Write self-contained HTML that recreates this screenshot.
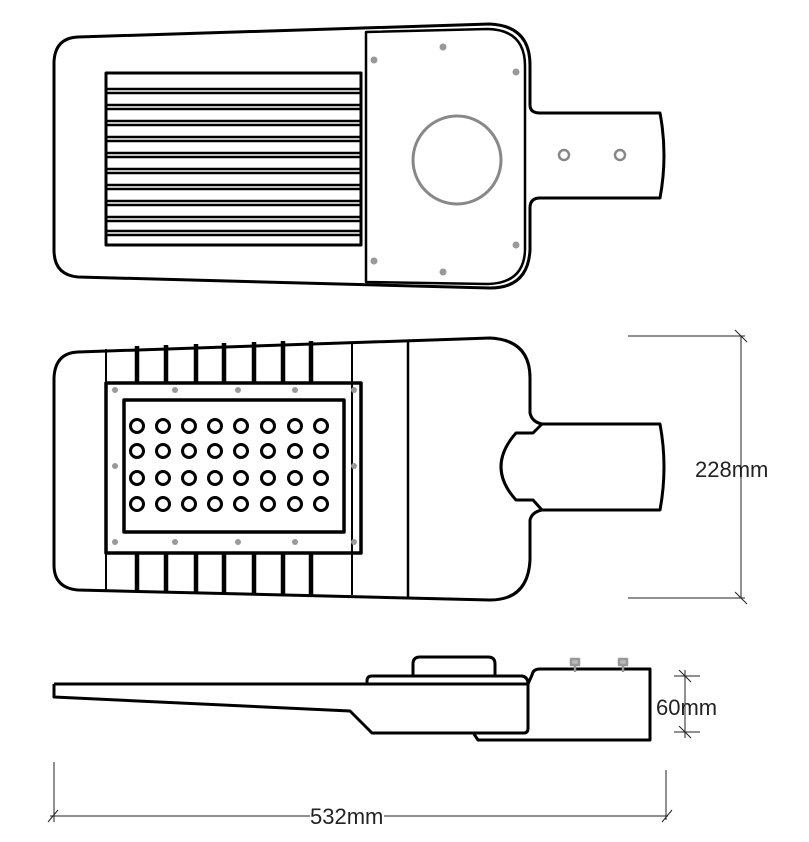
<!DOCTYPE html>
<html><head><meta charset="utf-8"><style>html,body{margin:0;padding:0;background:#fff}svg{display:block}text{font-family:"Liberation Sans",sans-serif;font-size:22px;fill:#222}</style></head><body>
<svg width="809" height="842" viewBox="0 0 809 842" xmlns="http://www.w3.org/2000/svg">
<g fill="none" stroke="#000" stroke-width="3" stroke-linejoin="round">
<!-- TOP VIEW -->
<path d="M78,37 L490,24 Q530,26 530,65 L530,105 Q530,113 540,113 L660,113 Q668,155 660,198 L540,198 Q530,198 530,208 L530,250 Q528,288 490,288 L78,277 Q54,275 54,250 L54,62 Q55,38 78,37 Z"/>
<path d="M366,32 L488,29 Q525,30 525,66 L525,250 Q524,283 488,284 L366,282 Z" stroke-width="2.5"/>
<rect x="106" y="73" width="255" height="172" stroke-width="3"/>
<g stroke-width="2.6">
<path d="M107,89H360M107,93H360M107,105H360M107,109H360M107,121H360M107,125H360M107,137H360M107,141H360M107,153H360M107,157H360M107,169H360M107,173H360M107,185H360M107,189H360M107,201H360M107,205H360M107,217H360M107,221H360M107,231H360M107,235H360"/>
</g>
<circle cx="457" cy="160" r="44" stroke="#888" stroke-width="3"/>
<g stroke="#888" stroke-width="2.5"><circle cx="564" cy="155" r="5"/><circle cx="620" cy="155" r="5"/></g>
<g fill="#999" stroke="none"><circle cx="443" cy="47" r="3.5"/><circle cx="374" cy="60" r="3.5"/><circle cx="516" cy="72" r="3.5"/><circle cx="374" cy="261" r="3.5"/><circle cx="443" cy="272" r="3.5"/><circle cx="516" cy="245" r="3.5"/></g>

<!-- MIDDLE VIEW -->
<path d="M78,352 L490,338 Q530,340 530,378 L530,413 Q532,422 542,424 L660,424 Q668,467 660,510 L542,510 Q532,512 530,520 L530,560 Q528,600 490,600 L78,590 Q54,588 54,565 L54,378 Q55,353 78,352 Z"/>
<path d="M542,424 L533,433 L516,433 Q486,467 516,500 L533,500 L542,510"/>
<path d="M106,349V590M352,343V595" stroke-width="2"/>
<path d="M408,340V597" stroke-width="2.5"/>
<g stroke-width="4.5"><path d="M137,346V383M166,345V383M196,344V383M224,343V383M254,342V383M283,341V383M311,341V383M137,553V592M166,553V593M196,553V593M224,553V594M254,553V594M283,553V595M311,553V595"/></g>
<rect x="106" y="383" width="255" height="170" stroke-width="3.5"/>
<rect x="124" y="400" width="220" height="132" stroke-width="3.5"/>
<g stroke-width="3">
<g id="r"><circle cx="137" cy="426" r="6.5"/><circle cx="163" cy="426" r="6.5"/><circle cx="189" cy="426" r="6.5"/><circle cx="215" cy="426" r="6.5"/><circle cx="241" cy="426" r="6.5"/><circle cx="268" cy="426" r="6.5"/><circle cx="295" cy="426" r="6.5"/><circle cx="321" cy="426" r="6.5"/></g>
<use href="#r" y="25"/><use href="#r" y="52"/><use href="#r" y="78"/>
</g>
<g fill="#999" stroke="none"><circle cx="115" cy="390" r="3"/><circle cx="175" cy="390" r="3"/><circle cx="238" cy="390" r="3"/><circle cx="295" cy="390" r="3"/><circle cx="354" cy="390" r="3"/><circle cx="115" cy="466" r="3"/><circle cx="354" cy="466" r="3"/><circle cx="115" cy="542" r="3"/><circle cx="175" cy="542" r="3"/><circle cx="238" cy="542" r="3"/><circle cx="295" cy="542" r="3"/><circle cx="354" cy="542" r="3"/></g>

<!-- SIDE VIEW -->
<path d="M54,684 L528,684 M54,684 L54,697 L350,711 L372,733 L524,733 Q528,733 528,728 L528,684"/>
<path d="M367,684 L367,681 Q367,676 372,676 L522,676 Q528,677 528,684"/>
<path d="M413,676 L413,664 Q413,657 420,657 L488,657 Q495,657 495,664 L495,676"/>
<path d="M528,684 L532,675 Q533,669 540,669 L650,669 L650,740 L478,740 L474,734"/>
<g stroke="#999" stroke-width="2.5"><path d="M575,662V672M623,662V672"/><rect x="571" y="659" width="8" height="6" fill="#bbb"/><rect x="619" y="659" width="8" height="6" fill="#bbb"/></g>
</g>

<!-- DIMENSIONS -->
<g fill="none" stroke="#222" stroke-width="1">
<path d="M628,336H745M628,598H745M741,336V598M735,330L747,342M735,592L747,604"/>
<path d="M674,676H700M674,732H700M685,670V738M679,670L691,682M679,726L691,738"/>
<path d="M54,762V822M666,770V820M50,816H668M48,822L58,810M662,822L672,810"/>
</g>
<text x="695" y="477">228mm</text>
<text x="656" y="715">60mm</text>
<rect x="310" y="808" width="74" height="18" fill="#fff"/>
<text x="310" y="824">532mm</text>
</svg>
</body></html>
